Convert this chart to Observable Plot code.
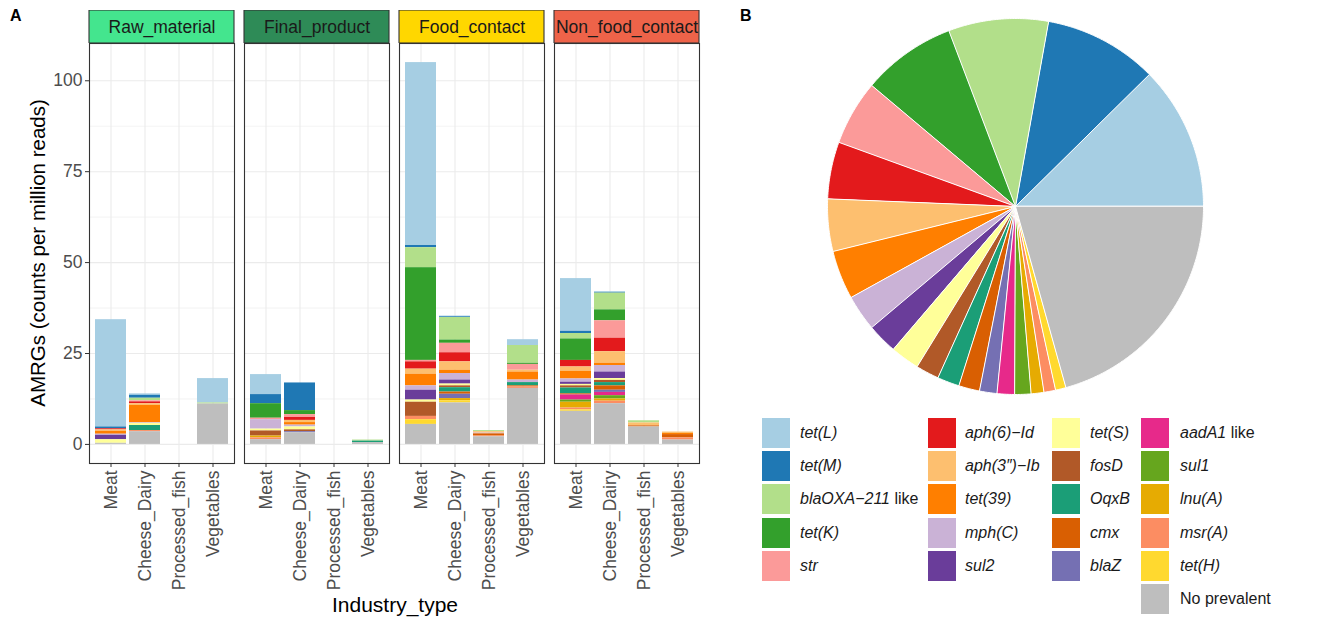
<!DOCTYPE html>
<html><head><meta charset="utf-8">
<script src="https://cdn.jsdelivr.net/npm/d3@7"></script>
<script src="https://cdn.jsdelivr.net/npm/@observablehq/plot@0.6"></script>
<style>
body{margin:0;background:#fff;font-family:"Liberation Sans",Arial,sans-serif;}
#root{position:relative;width:1317px;height:623px;overflow:hidden;background:#fff;}
.abs{position:absolute;}
.tag{font-weight:bold;font-size:16px;color:#000;}
.ytitle{font-size:20.5px;color:#000;white-space:nowrap;transform:translate(-50%,-50%) rotate(-90deg);}
.xtitle{font-size:21px;color:#000;white-space:nowrap;transform:translate(-50%,-50%);}
.key{width:28px;height:30px;}
.lab{font-size:16px;color:#1a1a1a;white-space:nowrap;transform:translateY(-50%);}
</style></head><body><div id="root"></div>
<script>
const FONT = '"Liberation Sans", Arial, sans-serif';

// ---- data ----
const panels = ["Raw_material", "Final_product", "Food_contact", "Non_food_contact"];
const stripColors = ["#44e58e", "#2e8b57", "#ffd700", "#ee6349"];
const industries = ["Meat", "Cheese_Dairy", "Processed_fish", "Vegetables"];
const genes = ["tet(L)", "tet(M)", "blaOXA−211 like", "tet(K)", "str", "aph(6)−Id", "aph(3″)−Ib", "tet(39)", "mph(C)", "sul2",
  "tet(S)", "fosD", "OqxB", "cmx", "blaZ", "aadA1 like", "sul1", "lnu(A)", "msr(A)", "tet(H)", "No prevalent"];
const geneColors = ["#a6cee3", "#1f78b4", "#b2df8a", "#33a02c", "#fb9a99", "#e31a1c", "#fdbf6f", "#ff7f00", "#cab2d6", "#6a3d9a",
  "#ffff99", "#b15928", "#1b9e77", "#d95f02", "#7570b3", "#e7298a", "#66a61e", "#e6ab02", "#fc8d62", "#ffd92f", "#bebebe"];
const yTicks = [0, 25, 50, 75, 100];
const yMinorTicks = [12.5, 37.5, 62.5, 87.5];

// values per industry (Meat, Cheese_Dairy, Processed_fish, Vegetables), in gene order above
const rawMaterial = [
  [29.5, 0.5, 0, 0, 0, 0.3, 0.4, 0.8, 0.3, 1.2, 1.0, 0, 0, 0, 0, 0, 0, 0, 0, 0, 0.3],
  [0.4, 0.8, 0.7, 0, 0.3, 0.5, 0.5, 4.7, 0.2, 0, 0.6, 0, 1.4, 0, 0, 0, 0, 0, 0.3, 0, 3.5],
  [0, 0, 0, 0, 0, 0, 0, 0, 0, 0, 0, 0, 0, 0, 0, 0, 0, 0, 0, 0, 0],
  [6.7, 0, 0.3, 0, 0, 0, 0, 0, 0, 0, 0, 0, 0, 0, 0, 0, 0, 0, 0, 0, 11.1]
];
const finalProduct = [
  [5.5, 2.5, 0, 4.0, 0.4, 0, 0, 0, 2.6, 0, 0.5, 1.4, 0, 0, 0, 0, 0, 0.5, 0.5, 0, 1.3],
  [0, 7.6, 0, 1.1, 0.8, 0.8, 0.6, 0.7, 0.5, 0, 0.8, 0.5, 0, 0, 0.3, 0, 0, 0, 0, 0, 3.2],
  [0, 0, 0, 0, 0, 0, 0, 0, 0, 0, 0, 0, 0, 0, 0, 0, 0, 0, 0, 0, 0],
  [0, 0, 0.3, 0, 0, 0, 0, 0, 0, 0, 0, 0, 0.4, 0, 0, 0, 0, 0, 0, 0, 0.5]
];
const foodContact = [
  [50.3, 0.6, 5.5, 25.5, 0.4, 2.0, 1.4, 3.2, 1.2, 2.7, 0.6, 3.9, 0, 0, 0, 0, 0, 0, 0.9, 1.3, 5.5],
  [0.2, 0.2, 6.2, 0.9, 2.6, 2.5, 2.3, 0.9, 1.8, 1.1, 0.5, 0.5, 1.2, 0.6, 1.2, 0, 0, 0.6, 0, 0.6, 11.4],
  [0, 0, 0.3, 0, 0, 0, 0.4, 0, 0.2, 0, 0, 0, 0, 0.6, 0, 0, 0, 0, 0.2, 0, 2.1],
  [1.6, 0, 4.9, 0.3, 1.6, 0, 0.5, 2.2, 0.7, 0, 0, 0, 0.9, 0.3, 0, 0, 0, 0, 0.4, 0, 15.4]
];
const nonFoodContact = [
  [14.5, 0.6, 1.5, 5.9, 0, 1.8, 1.2, 2.1, 0.9, 0.6, 0.4, 0.6, 1.6, 0.3, 0, 1.4, 0.6, 1.6, 0.5, 0.4, 9.1],
  [0.2, 0.2, 4.6, 3.0, 4.8, 3.7, 3.2, 0.6, 1.8, 1.8, 0.5, 0.6, 0.9, 1.2, 0.6, 0.9, 0.9, 0.6, 0.7, 0, 11.2],
  [0, 0, 0.6, 0, 0, 0, 0.8, 0, 0, 0, 0, 0, 0, 0.3, 0, 0, 0, 0, 0, 0, 4.8],
  [0, 0, 0, 0, 0, 0, 0.4, 0.3, 0, 0, 0, 0, 0, 0.9, 0, 0, 0, 0, 0.6, 0, 1.2]
];
// panel B: share of each gene (%)
const pieShare = [12.4, 9.8, 8.6, 8.1, 5.6, 4.9, 4.5, 4.2, 3.1, 2.6, 2.5, 2.0, 1.9, 1.8, 1.5, 1.5, 1.4, 1.1, 1.0, 0.9, 20.7];

// ---- build tables ----
const panelValues = [rawMaterial, finalProduct, foodContact, nonFoodContact];
const barData = [];
panels.forEach((p, pi) => industries.forEach((ind, ii) => genes.forEach((g, gi) => {
  const v = panelValues[pi][ii][gi];
  if (v > 0) barData.push({panel: p, industry: ind, gene: g, value: v});
})));
const stackOrder = genes.slice().reverse();
const stripData = panels.map((p, i) => ({panel: p, color: stripColors[i]}));

const root = document.getElementById("root");
function add(el, css) { Object.assign(el.style, css); el.classList.add("abs"); root.appendChild(el); return el; }
function div(cls, html, css) { const d = document.createElement("div"); d.className = cls; d.innerHTML = html; return add(d, css); }

const fxOpts = {domain: panels, paddingInner: 0.062, paddingOuter: 0, axis: null};

// strips
const strips = Plot.plot({
  width: 705, height: 33, marginLeft: 89, marginRight: 5, marginTop: 0, marginBottom: 0,
  style: {fontFamily: FONT, background: "transparent"},
  fx: fxOpts,
  x: {domain: [0, 1], axis: null},
  y: {domain: [0, 1], axis: null},
  marks: [
    Plot.rect(stripData, {fx: "panel", x1: () => 0, x2: () => 1, y1: () => 0, y2: () => 1, fill: "color", stroke: "#333333", strokeWidth: 1.1}),
    Plot.text(stripData, {fx: "panel", x: () => 0.5, y: () => 0.5, text: "panel", fontSize: 17.5, fill: "#1a1a1a"})
  ]
});
add(strips, {left: "0px", top: "10px"});

// bars
const bars = Plot.plot({
  width: 705, height: 575, marginLeft: 89, marginRight: 5, marginTop: 0, marginBottom: 155,
  style: {fontFamily: FONT, background: "transparent", color: "#4d4d4d"},
  fx: fxOpts,
  x: {domain: industries, paddingInner: 0.1, paddingOuter: 0.15, label: null},
  y: {domain: [-5.25, 110.25], label: null},
  color: {domain: genes, range: geneColors},
  marks: [
    Plot.gridY({ticks: yMinorTicks, stroke: "#ebebeb", strokeOpacity: 1, strokeWidth: 0.6}),
    Plot.gridY({ticks: yTicks, stroke: "#ebebeb", strokeOpacity: 1, strokeWidth: 1.1}),
    Plot.gridX({stroke: "#ebebeb", strokeOpacity: 1, strokeWidth: 1.1}),
    Plot.barY(barData, {fx: "panel", x: "industry", y: "value", fill: "gene", order: stackOrder}),
    Plot.frame({stroke: "#333333", strokeWidth: 1.1}),
    Plot.axisY({ticks: yTicks, tickSize: 4, tickPadding: 3, fontSize: 17.5, label: null, stroke: "#333333"}),
    Plot.axisX({tickRotate: -90, tickSize: 4, tickPadding: 3, fontSize: 17.5, label: null, stroke: "#333333"})
  ]
});
add(bars, {left: "0px", top: "43px"});

div("ytitle", "AMRGs (counts per million reads)", {left: "38px", top: "253px"});
div("xtitle", "Industry_type", {left: "395px", top: "605px"});
div("tag", "A", {left: "10px", top: "7px"});
div("tag", "B", {left: "740px", top: "7px"});

// pie
const total = d3.sum(pieShare);
let acc = 0;
const piePoints = [];
genes.forEach((g, i) => {
  const a0 = acc / total * 2 * Math.PI; acc += pieShare[i]; const a1 = acc / total * 2 * Math.PI;
  piePoints.push({gene: g, x: 0, y: 0});
  const n = Math.max(2, Math.ceil((a1 - a0) / (Math.PI / 360)));
  for (let k = 0; k <= n; k++) { const a = a0 + (a1 - a0) * k / n; piePoints.push({gene: g, x: Math.cos(a), y: Math.sin(a)}); }
});
const pie = Plot.plot({
  width: 384, height: 384, margin: 4,
  style: {background: "transparent"},
  x: {domain: [-1, 1], axis: null},
  y: {domain: [-1, 1], axis: null},
  color: {domain: genes, range: geneColors},
  marks: [
    Plot.line(piePoints, {x: "x", y: "y", z: "gene", fill: "gene", stroke: "white", strokeWidth: 1, curve: "linear-closed"})
  ]
});
add(pie, {left: "823px", top: "14px"});

// legend
const legendCols = [[0, 1, 2, 3, 4], [5, 6, 7, 8, 9], [10, 11, 12, 13, 14], [15, 16, 17, 18, 19, 20]];
const keyLeft = [762, 928, 1052, 1141];
const labLeft = [800, 965, 1090, 1180];
function labelHtml(g) {
  if (g === "No prevalent") return g;
  if (g.endsWith(" like")) return "<i>" + g.slice(0, -5) + "</i> like";
  return "<i>" + g + "</i>";
}
legendCols.forEach((col, c) => col.forEach((gi, r) => {
  const top = 418 + r * 33.2;
  div("key", "", {left: keyLeft[c] + "px", top: top + "px", background: geneColors[gi]});
  div("lab", labelHtml(genes[gi]), {left: labLeft[c] + "px", top: (top + 15) + "px"});
}));
</script></body></html>
